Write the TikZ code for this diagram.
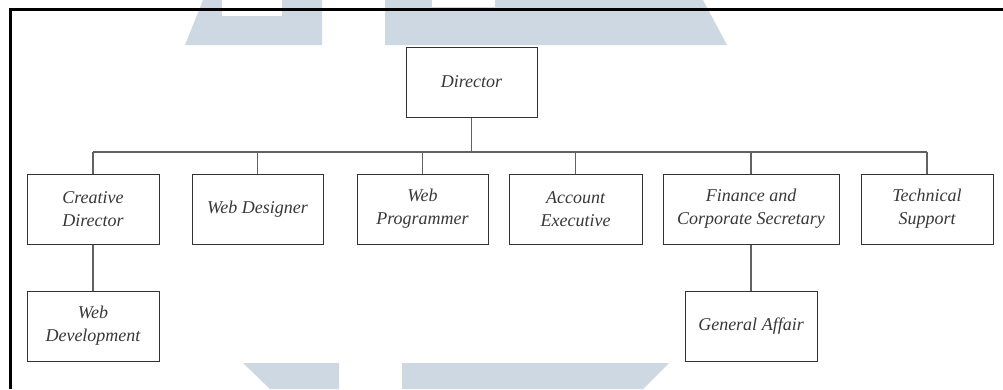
\documentclass[tikz,border=0pt]{standalone}
\usepackage{fontspec}
\setmainfont{Liberation Serif}
\begin{document}
\begin{tikzpicture}[x=1pt,y=-1pt,
  box/.style={draw=black!80, line width=1pt, fill=white, minimum width=131pt, minimum height=70pt,
    inner sep=0pt, align=center, text=black!78, font=\fontsize{18}{23}\selectfont\itshape},
  conn/.style={draw=black!62, line width=1.4pt},
  wm/.style={fill=wmblue, draw=none}]
\definecolor{wmblue}{RGB}{206,216,227}
\useasboundingbox (0,0) rectangle (1003,389);
\fill[white] (0,0) rectangle (1003,389);
% watermark
\fill[wm] (185,45) -- (203,0) -- (322,0) -- (322,45) -- cycle;
\fill[white] (222,0) rectangle (282,16);
\fill[wm] (385,0) -- (703,0) -- (727,45) -- (385,45) -- cycle;
\fill[white] (432,0) rectangle (495,7);
\fill[wm] (243,363) -- (339,363) -- (339,389) -- (270,389) -- cycle;
\fill[wm] (402,363) -- (669,363) -- (643,389) -- (402,389) -- cycle;
% frame
\draw[line width=3pt, black] (10.5,389) -- (10.5,9.5) -- (1003,9.5);
% nodes
\node[box] (dir) at (471.5,82) {Director};
\node[box, minimum width=132pt] (cd) at (93,209) {Creative\\Director};
\node[box] (wd) at (257.5,209) {Web Designer};
\node[box] (wp) at (422.5,209) {Web\\Programmer};
\node[box, minimum width=133pt] (ae) at (575.5,209) {Account\\Executive};
\node[box, minimum width=176pt] (fc) at (751,209) {Finance and\\Corporate Secretary};
\node[box, minimum width=132pt] (ts) at (927,209) {Technical\\Support};
\node[box, minimum width=132pt] (wdev) at (93,326) {Web\\Development};
\node[box, minimum width=132pt] (ga) at (751,326) {General Affair};
% connectors
\coordinate (busL) at (93,152);
\coordinate (busR) at (927,152);
\draw[conn] (busL) -- (busR);
\draw[conn] (dir.south) -- (dir.south |- busL);
\foreach \n in {cd,wd,wp,ae,fc,ts} \draw[conn] (\n.north) -- (\n.north |- busL);
\draw[conn] (cd.south) -- (wdev.north);
\draw[conn] (fc.south) -- (ga.north);
\end{tikzpicture}
\end{document}
